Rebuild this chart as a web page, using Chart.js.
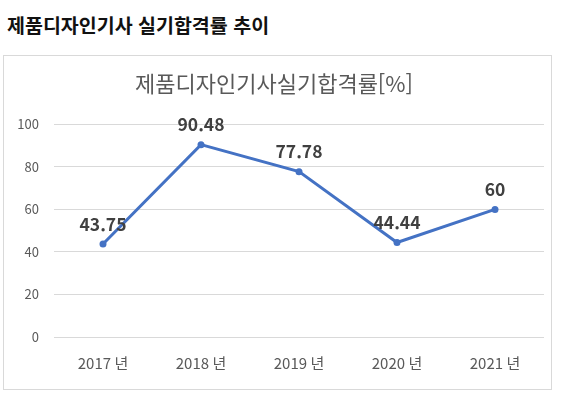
<!DOCTYPE html>
<html lang="ko">
<head>
<meta charset="utf-8">
<script src="https://cdn.jsdelivr.net/npm/chart.js@4/dist/chart.umd.min.js"></script>
<style>
  html,body{margin:0;padding:0;background:#fff;}
  body{width:561px;height:398px;position:relative;overflow:hidden;font-family:"Noto Sans CJK KR","Noto Sans",sans-serif;}
  .page-title{position:absolute;left:7px;top:10px;font-size:19.5px;font-weight:bold;color:#111;white-space:nowrap;}
  .chart-box{position:absolute;left:3px;top:55px;width:547px;height:333px;border:1px solid #d9d9d9;}
  .chart-box canvas{display:block;}
</style>
</head>
<body>
<div class="page-title">제품디자인기사 실기합격률 추이</div>
<div class="chart-box"><canvas id="c" width="547" height="333"></canvas></div>
<script>
  // data
  const years  = ['2017 년','2018 년','2019 년','2020 년','2021 년'];
  const rates  = [43.75, 90.48, 77.78, 44.44, 60];
  const labels = ['43.75','90.48','77.78','44.44','60'];
  const chartTitle = '제품디자인기사실기합격률[%]';

  const FONT = '"Noto Sans CJK KR","Noto Sans",sans-serif';
  const BLUE = '#4472C4';

  /* value labels above each point */
  const valueLabels = {
    id:'valueLabels',
    afterDatasetsDraw(chart){
      const ctx = chart.ctx;
      const meta = chart.getDatasetMeta(0);
      ctx.save();
      ctx.font = 'bold 17.5px ' + FONT;
      ctx.fillStyle = '#404040';
      ctx.textAlign = 'center';
      ctx.textBaseline = 'middle';
      meta.data.forEach((pt,i)=>{
        ctx.fillText(labels[i], pt.x, pt.y - 20);
      });
      ctx.restore();
    }
  };

  new Chart(document.getElementById('c'),{
    type:'line',
    data:{
      labels:years,
      datasets:[{
        data:rates,
        borderColor:BLUE,backgroundColor:BLUE,
        borderWidth:3,pointRadius:3.5,pointHoverRadius:3.5,
        pointBackgroundColor:BLUE,pointBorderWidth:0,
        tension:0,fill:false
      }]
    },
    options:{
      responsive:false,animation:false,
      layout:{padding:{left:0,right:7,top:0,bottom:0}},
      plugins:{
        legend:{display:false},
        tooltip:{enabled:false},
        title:{
          display:true,text:chartTitle,color:'#595959',
          font:{family:FONT,size:22,weight:'normal'},
          padding:{top:14,bottom:28}
        }
      },
      scales:{
        x:{
          offset:true,
          grid:{display:false,drawTicks:false},
          border:{display:false},
          ticks:{color:'#595959',padding:17,font:{family:FONT,size:15}}
        },
        y:{
          min:0,max:100,
          afterFit(s){ s.width = 50; },
          grid:{color:'#d9d9d9',drawTicks:false,lineWidth:1},
          border:{display:false},
          ticks:{stepSize:20,color:'#595959',padding:15,font:{family:FONT,size:13}}
        }
      }
    },
    plugins:[valueLabels]
  });
</script>
</body>
</html>
